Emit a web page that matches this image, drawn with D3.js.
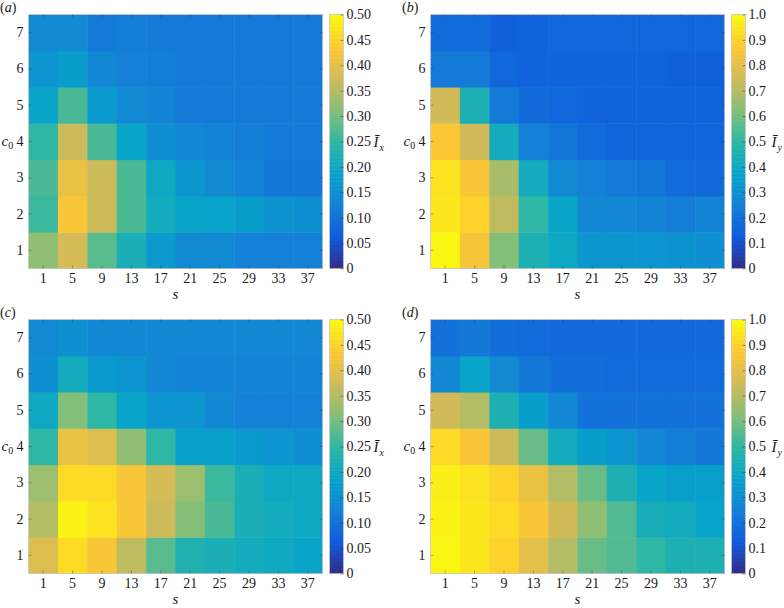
<!DOCTYPE html>
<html><head><meta charset="utf-8">
<script src="https://cdn.jsdelivr.net/npm/d3@7"></script>
<style>
body{margin:0;background:#fff;}
svg text{font-family:"Liberation Serif","Times New Roman",Times,"DejaVu Serif","Noto Serif",serif !important;fill:#1a1a1a;}
</style></head>
<body><svg id="c" width="784" height="608"></svg>
<script>
const sValues = [1,5,9,13,17,21,25,29,33,37];
const c0Values = [1,2,3,4,5,6,7];
const ticksA = [0,0.05,0.10,0.15,0.20,0.25,0.30,0.35,0.40,0.45,0.50];
const ticksB = [0,0.1,0.2,0.3,0.4,0.5,0.6,0.7,0.8,0.9,1.0];
// rows listed c0 = 1 .. 7, columns s = 1 .. 37
const panelA = [
 [0.32,0.38,0.28,0.22,0.17,0.14,0.14,0.125,0.125,0.125],
 [0.26,0.43,0.37,0.27,0.21,0.19,0.185,0.175,0.155,0.15],
 [0.27,0.41,0.37,0.27,0.20,0.16,0.14,0.13,0.11,0.11],
 [0.25,0.37,0.27,0.19,0.15,0.135,0.13,0.12,0.115,0.115],
 [0.19,0.27,0.17,0.14,0.13,0.115,0.115,0.115,0.115,0.115],
 [0.16,0.175,0.135,0.125,0.12,0.115,0.115,0.115,0.115,0.115],
 [0.14,0.14,0.115,0.12,0.115,0.115,0.115,0.115,0.115,0.115]
];
const panelB = [
 [0.99,0.85,0.62,0.45,0.40,0.33,0.33,0.32,0.31,0.30],
 [0.95,0.90,0.72,0.50,0.38,0.27,0.27,0.26,0.24,0.26],
 [0.94,0.86,0.68,0.42,0.28,0.25,0.23,0.21,0.18,0.17],
 [0.87,0.75,0.42,0.25,0.21,0.18,0.155,0.155,0.155,0.155],
 [0.75,0.45,0.23,0.17,0.16,0.15,0.15,0.15,0.15,0.15],
 [0.23,0.23,0.16,0.15,0.15,0.15,0.15,0.15,0.14,0.14],
 [0.18,0.18,0.14,0.15,0.16,0.16,0.16,0.16,0.16,0.16]
];
const panelC = [
 [0.39,0.46,0.43,0.36,0.28,0.23,0.22,0.21,0.20,0.19],
 [0.35,0.49,0.47,0.43,0.37,0.31,0.27,0.22,0.21,0.20],
 [0.33,0.46,0.46,0.43,0.38,0.33,0.26,0.22,0.20,0.20],
 [0.25,0.41,0.39,0.32,0.25,0.18,0.18,0.17,0.16,0.15],
 [0.20,0.31,0.25,0.19,0.16,0.16,0.135,0.125,0.125,0.125],
 [0.15,0.21,0.17,0.16,0.135,0.13,0.13,0.13,0.13,0.13],
 [0.14,0.15,0.135,0.135,0.135,0.135,0.135,0.135,0.135,0.135]
];
const panelD = [
 [0.99,0.95,0.90,0.80,0.70,0.58,0.55,0.50,0.45,0.45],
 [0.98,0.95,0.92,0.86,0.75,0.64,0.55,0.43,0.42,0.37],
 [0.97,0.94,0.90,0.82,0.70,0.58,0.45,0.38,0.36,0.36],
 [0.92,0.86,0.74,0.58,0.42,0.35,0.32,0.27,0.24,0.22],
 [0.75,0.70,0.45,0.35,0.27,0.20,0.20,0.20,0.20,0.20],
 [0.27,0.38,0.28,0.22,0.19,0.19,0.18,0.18,0.18,0.18],
 [0.20,0.22,0.19,0.18,0.17,0.17,0.17,0.17,0.17,0.17]
];

const parulaStops = ["#352a87","#0f5cdd","#1481d6","#06a4ca","#2eb7a4","#87bf77","#d1bb59","#fec832","#f9fb0e"];
const serif = "'Liberation Serif','Times New Roman',Times,'DejaVu Serif',serif";

const fmtA = d=>d===0?"0":d3.format(".2f")(d);
const fmtB = d=>d===0?"0":d3.format(".1f")(d);
const panels = [
 {tag:"a", data:panelA, max:0.5, ticks:ticksA, fmt:fmtA, sub:"x", x0:28.5, y0:14.5, lx:30},
 {tag:"b", data:panelB, max:1.0, ticks:ticksB, fmt:fmtB, sub:"y", x0:430.5, y0:14.5, lx:26},
 {tag:"c", data:panelC, max:0.5, ticks:ticksA, fmt:fmtA, sub:"x", x0:28.5, y0:319.5, lx:30},
 {tag:"d", data:panelD, max:1.0, ticks:ticksB, fmt:fmtB, sub:"y", x0:430.5, y0:319.5, lx:26}
];

const W = 294, H = 254, cbGap = 7, cbW = 14, FS = 14;
const svg = d3.select("#c").attr("font-family", serif);

panels.forEach(p=>{
  const g = svg.append("g").attr("transform",`translate(${p.x0},${p.y0})`);
  const x = d3.scaleBand().domain(sValues).range([0,W]);
  const y = d3.scaleBand().domain(c0Values.slice().reverse()).range([0,H]);
  const color = d3.scaleLinear()
     .domain(parulaStops.map((_,i)=>i/(parulaStops.length-1)*p.max))
     .range(parulaStops).interpolate(d3.interpolateRgb).clamp(true);
  const cells = [];
  p.data.forEach((row,ri)=>row.forEach((v,ci)=>cells.push({s:sValues[ci],c:c0Values[ri],v})));
  g.selectAll("rect.cell").data(cells).enter().append("rect")
    .attr("x",d=>x(d.s)).attr("y",d=>y(d.c))
    .attr("width",x.bandwidth()+0.5).attr("height",y.bandwidth()+0.5)
    .attr("fill",d=>color(d.v));
  g.append("rect").attr("width",W).attr("height",H).attr("fill","none")
    .attr("stroke","#c8c8c8").attr("stroke-width",0.8);

  const tk = g.append("g").attr("stroke","#3a3a3a").attr("stroke-opacity",0.5).attr("stroke-width",0.8);
  sValues.forEach(s=>{
    const cx = x(s)+x.bandwidth()/2;
    tk.append("line").attr("x1",cx).attr("x2",cx).attr("y1",H).attr("y2",H-3);
    tk.append("line").attr("x1",cx).attr("x2",cx).attr("y1",0).attr("y2",3);
  });
  c0Values.forEach(c=>{
    const cy = y(c)+y.bandwidth()/2;
    tk.append("line").attr("x1",0).attr("x2",3).attr("y1",cy).attr("y2",cy);
    tk.append("line").attr("x1",W).attr("x2",W-3).attr("y1",cy).attr("y2",cy);
  });

  const xa = g.append("g").attr("transform",`translate(0,${H})`)
    .call(d3.axisBottom(x).tickSize(0).tickPadding(5));
  const ya = g.append("g").call(d3.axisLeft(y).tickSize(0).tickPadding(5));
  [xa,ya].forEach(a=>{a.attr("font-family",serif).attr("font-size",FS); a.select(".domain").remove();
    a.selectAll("text").attr("fill","#1a1a1a");});

  g.append("text").attr("x",W/2).attr("y",H+30).attr("text-anchor","middle")
    .attr("font-size",FS+1).attr("font-style","italic").text("s");
  const cl = g.append("text").attr("x",-27).attr("y",y(4)+y.bandwidth()/2+4).attr("font-size",FS+1);
  cl.append("tspan").attr("font-style","italic").text("c");
  cl.append("tspan").attr("dy",3).attr("font-size",10).text("0");

  const tt = g.append("text").attr("x",-28.5).attr("y",-3).attr("font-size",FS);
  tt.append("tspan").text("(");
  tt.append("tspan").attr("font-style","italic").text(p.tag);
  tt.append("tspan").text(")");

  const cb = g.append("g").attr("transform",`translate(${W+cbGap},0)`);
  const cy = d3.scaleLinear().domain([0,p.max]).range([H,0]);
  const steps = d3.range(0,64);
  cb.selectAll("rect").data(steps).enter().append("rect")
    .attr("x",0).attr("width",cbW)
    .attr("y",i=>cy((i+1)/64*p.max)).attr("height",H/64+0.5)
    .attr("fill",i=>color((i+0.5)/64*p.max));
  cb.append("rect").attr("width",cbW).attr("height",H).attr("fill","none").attr("stroke","#c8c8c8").attr("stroke-width",0.8);
  const cax = cb.append("g").attr("transform",`translate(${cbW},0)`)
    .call(d3.axisRight(cy).tickValues(p.ticks).tickFormat(p.fmt).tickSize(-3).tickPadding(3));
  cax.attr("font-family",serif).attr("font-size",FS);
  cax.select(".domain").remove();
  cax.selectAll("line").attr("stroke","#3a3a3a").attr("stroke-opacity",0.5);
  cax.selectAll("text").attr("fill","#1a1a1a");
  const lab = cb.append("text").attr("x",cbW+p.lx).attr("y",H/2+5).attr("font-size",FS+1);
  lab.append("tspan").attr("font-style","italic").text("Ī");
  lab.append("tspan").attr("dx",1).attr("dy",4).attr("font-size",10).attr("font-style","italic").text(p.sub);
});
</script></body></html>
